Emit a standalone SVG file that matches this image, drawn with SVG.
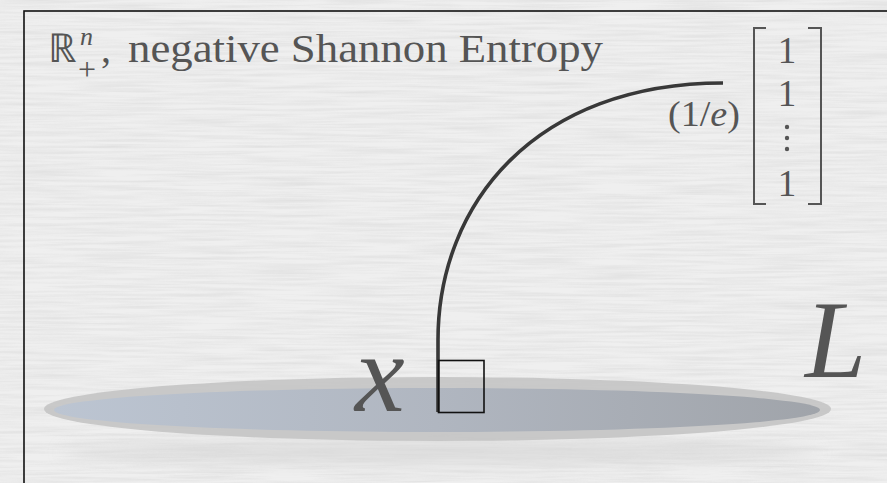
<svg xmlns="http://www.w3.org/2000/svg" width="887" height="483" viewBox="0 0 887 483">
<defs>
<style>
.serif{font-family:"Liberation Serif","Times New Roman",serif;fill:#555555}
.it{font-style:italic}
.br{fill:none;stroke:#555555;stroke-width:2}
</style>
<filter id="paper" x="0" y="0" width="100%" height="100%">
<feTurbulence type="fractalNoise" baseFrequency="0.012 0.35" numOctaves="3" seed="4" result="n"/>
<feColorMatrix in="n" type="matrix" values="0 0 0 0 0.55  0 0 0 0 0.55  0 0 0 0 0.55  0 0 0 -1.6 1.05"/>
</filter>
<linearGradient id="inner" x1="0" y1="0" x2="1" y2="0">
<stop offset="0" stop-color="#bcc5d2"/>
<stop offset="0.5" stop-color="#b0b6c0"/>
<stop offset="1" stop-color="#a0a4aa"/>
</linearGradient>
<filter id="blur" x="-10%" y="-100%" width="120%" height="300%">
<feGaussianBlur stdDeviation="8"/>
</filter>
</defs>
<rect x="0" y="0" width="887" height="483" fill="#efefef"/>
<rect x="0" y="0" width="887" height="483" filter="url(#paper)" opacity="0.35"/>
<rect x="24" y="11" width="880" height="490" fill="none" stroke="#111111" stroke-width="1.6"/>
<g id="title">
<text class="serif" x="48" y="62" font-size="40">ℝ</text>
<text class="serif it" x="80" y="45" font-size="26">n</text>
<text class="serif" x="78" y="80" font-size="32">+</text>
<text class="serif" x="101" y="62" font-size="40">,</text>
<text class="serif" x="128" y="62" font-size="40" textLength="475" lengthAdjust="spacingAndGlyphs">negative Shannon Entropy</text>
</g>
<g id="disk">
<ellipse cx="440" cy="452" rx="380" ry="12" fill="#d6d6d6" filter="url(#blur)" opacity="0.7"/>
<ellipse cx="437.5" cy="409" rx="393.5" ry="32" fill="#c4c4c4" opacity="0.9"/>
<ellipse cx="437" cy="410" rx="383" ry="22" fill="url(#inner)"/>
</g>
<g id="vector">
<path class="br" d="M766,28 H754 V204 H766"/>
<path class="br" d="M808,28 H821 V204 H808"/>
<text class="serif" x="787" y="63" font-size="37" text-anchor="middle">1</text>
<text class="serif" x="787" y="106" font-size="37" text-anchor="middle">1</text>
<circle cx="787" cy="127" r="2.2" fill="#555555"/>
<circle cx="787" cy="138" r="2.2" fill="#555555"/>
<circle cx="787" cy="149" r="2.2" fill="#555555"/>
<text class="serif" x="787" y="196" font-size="37" text-anchor="middle">1</text>
<text class="serif" x="668" y="126" font-size="36" textLength="72" lengthAdjust="spacingAndGlyphs">(1/<tspan font-style="italic">e</tspan>)</text>
</g>
<g id="connectors">
<path d="M438,412 V340 C438,203 536,83 723,83" fill="none" stroke="#383838" stroke-width="3.6"/>
</g>
<g id="point-x">
<rect x="438.5" y="360.5" width="45.5" height="52" fill="none" stroke="#111111" stroke-width="1.6"/>
<text class="serif it" x="355" y="411" font-size="112" fill="#4a4a4a">x</text>
</g>
<g id="label-L">
<text class="serif it" x="805" y="377" font-size="110" fill="#4a4a4a">L</text>
</g>
</svg>
